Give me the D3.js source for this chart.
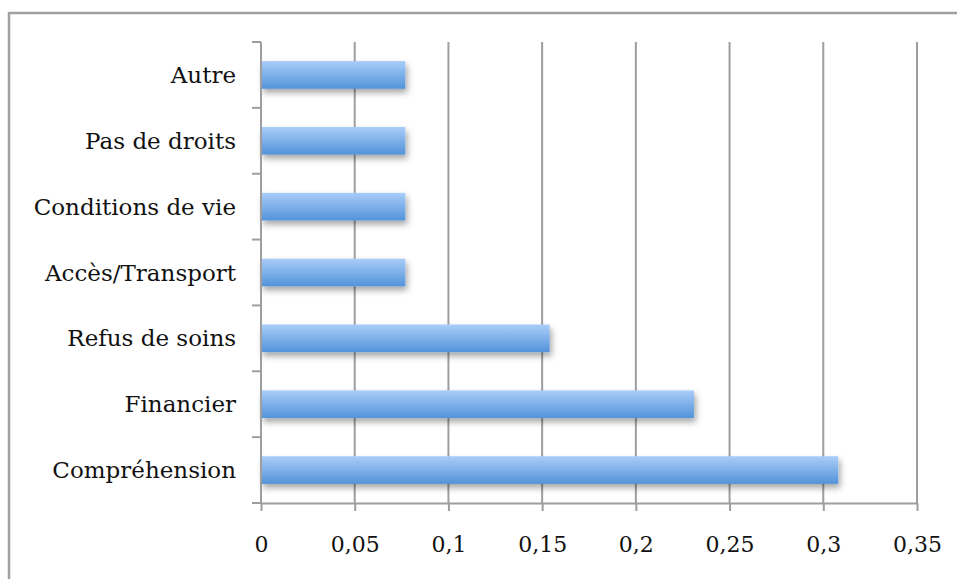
<!doctype html>
<html>
<head>
<meta charset="utf-8">
<script src="https://cdn.jsdelivr.net/npm/d3@7"></script>
<style>
  body { margin: 0; background: #fff; }
  text { font-family: "DejaVu Serif", "Liberation Serif", serif; fill: #111; }
</style>
</head>
<body>
<div id="chart"></div>
<script>
// categories, bottom to top as in the picture
var categories = ["Compréhension", "Financier", "Refus de soins", "Accès/Transport",
                  "Conditions de vie", "Pas de droits", "Autre"];
var values = [0.308, 0.231, 0.154, 0.077, 0.077, 0.077, 0.077];
var tickValues = [0, 0.05, 0.1, 0.15, 0.2, 0.25, 0.3, 0.35];

var W = 957, H = 579;
var margin = {top: 42, right: 40, bottom: 76, left: 261},
    width = 917 - margin.left,
    height = 503 - margin.top;

var svg = d3.select("#chart").append("svg")
    .attr("width", W)
    .attr("height", H);

// outer frame (right and bottom run off the picture)
svg.append("rect")
    .attr("x", 9).attr("y", 13)
    .attr("width", W).attr("height", H)
    .attr("fill", "none")
    .attr("stroke", "#a0a0a0")
    .attr("stroke-width", 2.5);

var defs = svg.append("defs");
var grad = defs.append("linearGradient")
    .attr("id", "barGrad")
    .attr("x1", 0).attr("y1", 0).attr("x2", 0).attr("y2", 1);
grad.append("stop").attr("offset", "0%").attr("stop-color", "#a9cdf9");
grad.append("stop").attr("offset", "100%").attr("stop-color", "#5393d9");

var shadow = defs.append("filter").attr("id", "shadow")
    .attr("x", "-5%").attr("y", "-30%").attr("width", "115%").attr("height", "190%");
shadow.append("feDropShadow")
    .attr("dx", 2).attr("dy", 4).attr("stdDeviation", 3)
    .attr("flood-color", "#000").attr("flood-opacity", 0.35);

var g = svg.append("g")
    .attr("transform", "translate(" + margin.left + "," + margin.top + ")");

var x = d3.scaleLinear().domain([0, 0.35]).range([0, width]);
var y = d3.scaleBand().domain(categories).range([height, 0]).paddingInner(0.58).paddingOuter(0.29);
var yBand = d3.scaleBand().domain(categories).range([height, 0]);

// vertical gridlines
g.selectAll(".grid")
    .data(tickValues.slice(1))
  .enter().append("line")
    .attr("x1", function(d) { return x(d); })
    .attr("x2", function(d) { return x(d); })
    .attr("y1", 0)
    .attr("y2", height)
    .attr("stroke", "#9e9e9e")
    .attr("stroke-width", 2);

// bars
g.selectAll(".bar")
    .data(values)
  .enter().append("rect")
    .attr("x", 0)
    .attr("y", function(d, i) { return y(categories[i]); })
    .attr("width", function(d) { return x(d); })
    .attr("height", y.bandwidth())
    .attr("fill", "url(#barGrad)")
    .attr("filter", "url(#shadow)");

// x axis
var fmt = function(d) { return String(d).replace(".", ","); };
var xAxis = g.append("g")
    .attr("transform", "translate(0," + height + ")")
    .call(d3.axisBottom(x).tickValues(tickValues).tickFormat(fmt).tickSizeInner(8).tickSizeOuter(0).tickPadding(25));
xAxis.select(".domain").attr("stroke", "#9e9e9e").attr("stroke-width", 2);
xAxis.selectAll(".tick line").attr("stroke", "#9e9e9e").attr("stroke-width", 2);
xAxis.selectAll("text").style("font-size", "22px").attr("fill", "#111");

// y axis: ticks between categories
var yAxis = g.append("g");
yAxis.append("line")
    .attr("x1", 0).attr("x2", 0).attr("y1", 0).attr("y2", height)
    .attr("stroke", "#9e9e9e").attr("stroke-width", 2);
var boundaries = categories.map(function(c) { return yBand(c); }).concat([height]);
yAxis.selectAll(".ytick")
    .data(boundaries)
  .enter().append("line")
    .attr("x1", -9).attr("x2", 0)
    .attr("y1", function(d) { return d; })
    .attr("y2", function(d) { return d; })
    .attr("stroke", "#9e9e9e").attr("stroke-width", 2);
yAxis.selectAll(".ylab")
    .data(categories)
  .enter().append("text")
    .attr("x", -25)
    .attr("y", function(d) { return yBand(d) + yBand.bandwidth() / 2; })
    .attr("dy", "0.35em")
    .attr("text-anchor", "end")
    .style("font-size", "23px")
    .text(function(d) { return d; });
</script>
</body>
</html>
